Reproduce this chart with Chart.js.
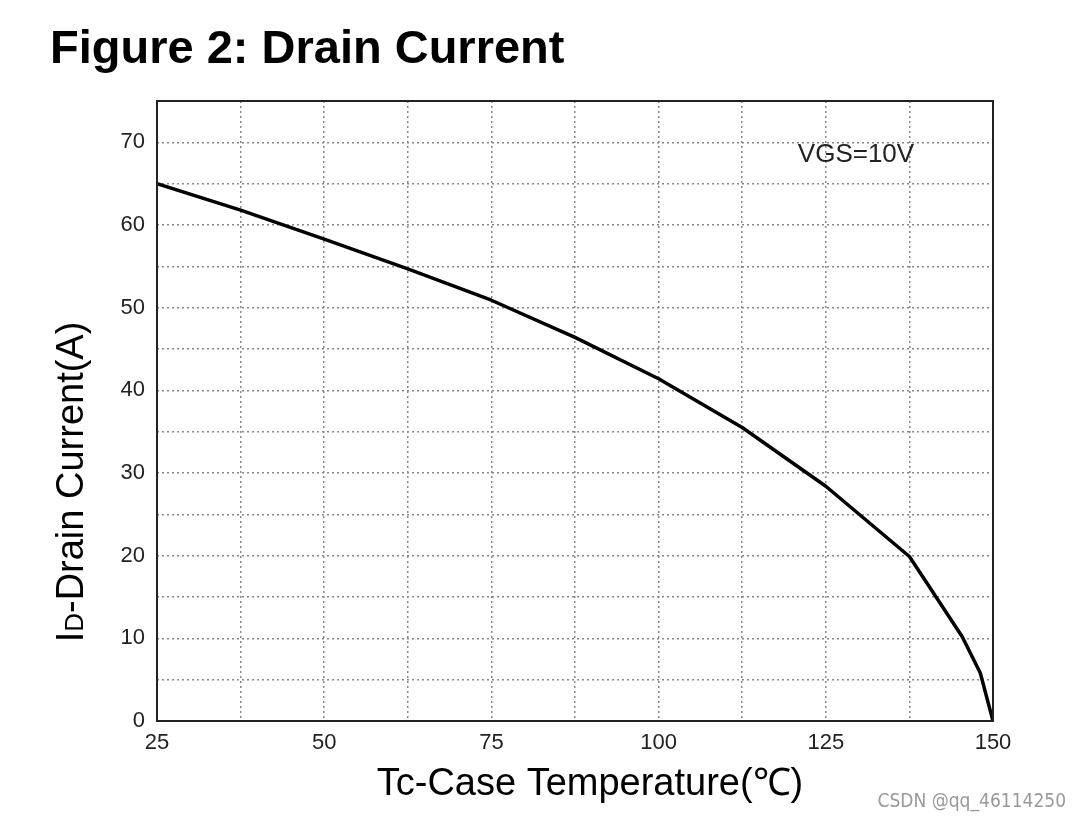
<!DOCTYPE html>
<html>
<head>
<meta charset="utf-8">
<script src="https://cdn.jsdelivr.net/npm/chart.js@4/dist/chart.umd.min.js"></script>
<style>
  html, body { margin: 0; padding: 0; background: #fff; }
  #holder { width: 1080px; height: 821px; }
</style>
</head>
<body>
<div id="holder"><canvas id="chart" width="1080" height="821"></canvas></div>
<script>
// Drain current vs case temperature
const temps = [25, 37.5, 50, 62.5, 75, 87.5, 100, 112.5, 125, 137.5, 145.4, 148.1, 150];
const drainCurrent = [65.0, 61.8, 58.3, 54.7, 50.9, 46.4, 41.4, 35.5, 28.4, 19.9, 10.2, 5.8, 0];

const xTickLabels = [25, 50, 75, 100, 125, 150];
const yTickLabels = [0, 10, 20, 30, 40, 50, 60, 70];

const chartTitle = 'Figure 2: Drain Current';
const xTitle = 'Tc-Case Temperature(℃)';
const yTitleMain = 'I';
const yTitleSub = 'D';
const yTitleRest = '-Drain Current(A)';
const noteText = 'VGS=10V';
const watermark = 'CSDN @qq_46114250';

const FONT = '"Liberation Sans", Arial, sans-serif';

// Box, title, axis titles and annotation are drawn by hand
const extrasPlugin = {
    id: 'extras',
    afterDraw(chart) {
        const ctx = chart.ctx;
        const area = chart.chartArea;
        ctx.save();

        // solid frame round the plot
        ctx.strokeStyle = '#222';
        ctx.lineWidth = 2;
        ctx.strokeRect(area.left, area.top, area.right - area.left, area.bottom - area.top);

        ctx.fillStyle = '#000';
        ctx.textBaseline = 'alphabetic';

        // main title
        ctx.font = 'bold 47px ' + FONT;
        ctx.textAlign = 'left';
        ctx.fillText(chartTitle, 50, 63);

        // x title
        ctx.font = '38px ' + FONT;
        ctx.textAlign = 'center';
        ctx.fillText(xTitle, 590, 795);

        // y title, with the small D after the I
        ctx.save();
        ctx.translate(83, 482);
        ctx.rotate(-Math.PI / 2);
        ctx.font = '38px ' + FONT;
        const w1 = ctx.measureText(yTitleMain).width;
        const w3 = ctx.measureText(yTitleRest).width;
        ctx.font = '26px ' + FONT;
        const w2 = ctx.measureText(yTitleSub).width;
        let x = -(w1 + w2 + w3) / 2;
        ctx.textAlign = 'left';
        ctx.font = '38px ' + FONT;
        ctx.fillText(yTitleMain, x, 0);
        x += w1;
        ctx.font = '26px ' + FONT;
        ctx.fillText(yTitleSub, x, 0);
        x += w2;
        ctx.font = '38px ' + FONT;
        ctx.fillText(yTitleRest, x, 0);
        ctx.restore();

        // annotation
        ctx.fillStyle = '#222';
        ctx.font = '26px ' + FONT;
        ctx.textAlign = 'center';
        ctx.fillText(noteText, 856, 162);

        // watermark
        ctx.fillStyle = '#999';
        ctx.font = '19px "DejaVu Sans Condensed", "Noto Sans", sans-serif';
        ctx.textAlign = 'right';
        ctx.fillText(watermark, 1066, 807);

        ctx.restore();
    }
};

const config = {
    type: 'line',
    data: {
        datasets: [{
            data: temps.map((t, i) => ({ x: t, y: drainCurrent[i] })),
            borderColor: '#000',
            borderWidth: 3.5,
            pointRadius: 0,
            tension: 0,
            borderJoinStyle: 'round',
            fill: false
        }]
    },
    options: {
        responsive: false,
        animation: false,
        events: [],
        layout: {
            padding: { left: 0, top: 101, right: 87, bottom: 0 }
        },
        scales: {
            x: {
                type: 'linear',
                min: 25,
                max: 150,
                afterFit: (scale) => { scale.height = 100; },
                afterBuildTicks: (scale) => {
                    const t = [];
                    for (let v = 25; v <= 150; v += 12.5) t.push({ value: v });
                    scale.ticks = t;
                },
                ticks: {
                    autoSkip: false,
                    maxRotation: 0,
                    padding: 9,
                    color: '#222',
                    font: { family: FONT, size: 22 },
                    callback: (v) => xTickLabels.includes(v) ? String(v) : ''
                },
                grid: { color: '#888', lineWidth: 1.5, drawTicks: false },
                border: { display: false, dash: [2, 3] }
            },
            y: {
                type: 'linear',
                min: 0,
                max: 75,
                afterFit: (scale) => { scale.width = 157; },
                ticks: {
                    stepSize: 5,
                    autoSkip: false,
                    padding: 12,
                    color: '#222',
                    font: { family: FONT, size: 22 },
                    callback: (v) => yTickLabels.includes(v) ? String(v) : ''
                },
                grid: { color: '#888', lineWidth: 1.5, drawTicks: false },
                border: { display: false, dash: [2, 3] }
            }
        },
        plugins: {
            legend: { display: false },
            title: { display: false },
            tooltip: { enabled: false }
        }
    },
    plugins: [extrasPlugin]
};

new Chart(document.getElementById('chart').getContext('2d'), config);
</script>
</body>
</html>
